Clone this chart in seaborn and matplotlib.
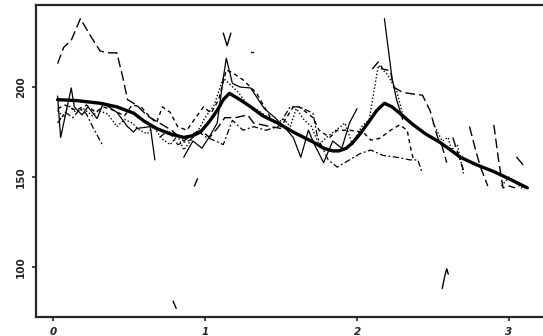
import numpy as np
import pandas as pd
import matplotlib
matplotlib.use("Agg")
import matplotlib.pyplot as plt
import seaborn as sns

# ── data (None = gap in the record) ──────────────────────────────────────────
smooth_x = [0.03, 0.15, 0.31, 0.42, 0.53, 0.6, 0.68, 0.77, 0.86, 0.92, 0.97, 1.03, 1.08, 1.12,
            1.16, 1.23, 1.3, 1.38, 1.49, 1.58, 1.65, 1.71, 1.78, 1.84, 1.88, 1.93, 1.97, 2.02,
            2.08, 2.13, 2.18, 2.23, 2.28, 2.37, 2.45, 2.55, 2.68, 2.78, 2.9, 3.0, 3.12]
smooth_y = [193, 192.5, 191, 189, 185.5, 181, 177, 174, 172, 173, 175, 181, 187, 193,
            196.5, 193, 189, 184, 179.5, 175, 172, 169.5, 166, 164.5, 164.5, 166, 169, 174,
            181, 187, 191, 189, 185.5, 179, 174, 169, 161, 157, 153, 149, 144]

solid_x = [0.03, 0.05, 0.12, 0.14, 0.19, 0.23, 0.29, 0.33, 0.42, 0.49, 0.53, 0.55, 0.64, 0.67, None,
           0.86, 0.92, 0.98, 1.04, 1.08, 1.12, 1.14, 1.18, 1.23, 1.3, 1.39, 1.46, 1.54, 1.58,
           1.63, 1.68, 1.72, 1.78, 1.84, 1.9, 1.95, 2.0, None, 2.18, 2.23, 2.26, 2.3]
solid_y = [195, 172, 199.5, 189, 184.5, 189, 182.5, 191, 186, 178, 175, 177, 178, 159.5, None,
           161, 170, 166, 174, 180, 205, 216, 202, 200, 199.5, 188, 183, 176, 172,
           161, 176, 168, 158, 170, 166, 180, 188, None, 238, 205, 193, 182]

longdash_x = [0.03, 0.07, 0.12, 0.18, 0.25, 0.31, 0.36, 0.42, 0.46, 0.49, 0.55, 0.62, 0.7, 0.78,
              0.86, 0.92, 0.97, 1.03, 1.08, 1.13, 1.2, 1.28, 1.32, 1.43, 1.5, None,
              2.1, 2.14, 2.17, 2.22, 2.24, 2.3, 2.38, 2.43, 2.48, 2.53, 2.56, 2.59, None,
              2.63, 2.66, 2.7, None, 2.74, 2.78, 2.81, 2.86, None, 2.9, 2.93, 2.96, 3.0, 3.04]
longdash_y = [213, 222, 226, 238, 228, 220, 219, 219, 205, 193, 190, 184, 180, 176,
              170, 174, 176, 172, 177, 183, 183, 184.5, 180, 178, 177, None,
              210, 214, 210, 209, 200, 197, 196, 195.5, 187, 172, 167, 158, None,
              172, 164, 154, None, 178, 165, 156, 145, None, 179, 160, 144, 145, 144]

dash_x = [0.03, 0.08, 0.15, 0.22, 0.28, 0.33, 0.4, 0.47, 0.52, 0.58, 0.63, 0.68, 0.72, 0.77,
          0.82, 0.88, 0.93, 0.99, 1.04, 1.09, 1.14, 1.18, 1.25, 1.34, 1.43, 1.5, 1.58, 1.62,
          1.71, 1.75, 1.82, 1.87, 1.95, 2.04, 2.09, 2.15, 2.22, 2.28, 2.33, 2.35, 2.37]
dash_y = [188, 190, 187, 190, 186, 189, 187, 184, 190, 189, 184, 180, 189, 186,
          178, 176, 182, 189, 185.5, 193, 209.5, 208, 204, 196.5, 183, 178, 189, 189,
          183, 176, 172, 176, 176, 175, 170.5, 171.5, 176, 179, 176, 167, 160]

dot_x = [0.03, 0.07, 0.1, 0.15, 0.2, 0.26, 0.3, 0.36, 0.42, 0.47, 0.52, 0.57, 0.62, 0.66, 0.72,
         0.77, 0.82, 0.86, 0.92, 0.97, 1.0, 1.06, 1.12, 1.17, 1.22, 1.28, 1.35, 1.4, 1.46, 1.52,
         1.56, 1.6, 1.65, 1.7, 1.75, 1.8, 1.86, 1.92, 1.97, 2.03, 2.08, 2.14, 2.2, 2.26, 2.3,
         2.34, None, 2.5, 2.56, 2.6, 2.62, 2.66, 2.7, None, 2.95, 3.0, 3.05, 3.1]
dot_y = [187, 183, 190, 186, 188, 184, 187, 185, 178, 182, 180, 176, 174, 178, 171,
         168, 173, 165, 172, 178, 183, 190, 205, 201, 197, 190, 187, 184, 180, 182,
         178, 188, 182, 178, 168, 172, 176, 180, 168, 178, 182, 212, 207, 198, 185,
         181, None, 180, 170, 172, 165, 168, 152, None, 145, 150, 146, 143]

dashdot_x = [0.03, 0.08, 0.13, 0.18, 0.22, 0.26, 0.33, None, 0.7, 0.76, 0.82, 0.9, 0.96, 1.01,
             1.07, 1.12, 1.18, 1.25, 1.32, 1.4, 1.48, 1.56, 1.62, 1.71, 1.74, 1.81, 1.87,
             1.95, 2.02, 2.09, 2.17, 2.26, 2.35, 2.4, 2.43]
dashdot_y = [180, 186, 183, 188, 185, 178, 167, None, 172, 176, 168, 170.5, 175, 172,
             170, 168, 181.5, 176, 178, 176, 178, 189, 189, 185.5, 172, 159.5, 155.5,
             159.5, 163, 165, 162, 161, 159.5, 159.5, 152]

# stray fragments on the scan
frag_x = [0.79, 0.81, None, 0.93, 0.95, None, 2.56, 2.58, 2.59, 2.6, None,
          1.12, 1.145, 1.17, None, 1.305, 1.315, None, 3.05, 3.09]
frag_y = [81, 77, None, 145, 149, None, 88, 96, 99, 96, None,
          230, 223, 230, None, 219.5, 219.5, None, 161, 157]


def to_frame(xs, ys):
    """Split a series at None gaps into numbered segments."""
    rows, seg = [], 0
    for x, y in zip(xs, ys):
        if x is None:
            seg += 1
            continue
        rows.append((x, y, seg))
    return pd.DataFrame(rows, columns=["x", "y", "seg"])


sns.set_style("ticks")
plt.rcParams["font.family"] = ["DejaVu Sans"]

fig = plt.figure(figsize=(5.43, 3.36), dpi=100)
ax = fig.add_axes([36 / 543, 1 - 317 / 336, 510 / 543, 312 / 336])

series = [
    (solid_x, solid_y, "-", 0.9),
    (longdash_x, longdash_y, (0, (7, 3)), 1.0),
    (dash_x, dash_y, (0, (3, 2.5)), 1.0),
    (dot_x, dot_y, (0, (1, 1.5)), 1.0),
    (dashdot_x, dashdot_y, (0, (5, 2, 1.5, 2)), 0.9),
    (frag_x, frag_y, "-", 1.0),
]
for xs, ys, ls, lw in series:
    df = to_frame(xs, ys)
    sns.lineplot(data=df, x="x", y="y", units="seg", estimator=None, sort=False,
                 color="black", linestyle=ls, linewidth=lw, ax=ax, legend=False)

sns.lineplot(x=smooth_x, y=smooth_y, color="black", linewidth=2.4, sort=False,
             estimator=None, ax=ax)

ax.set_xlim(-0.112, 3.243)
ax.set_ylim(72.2, 245.6)
ax.set_xticks([0, 1, 2, 3])
ax.set_yticks([100, 150, 200])
ax.set_xticklabels(["0", "1", "2", "3"], fontsize=7.5, fontweight="bold", style="italic")
ax.set_yticklabels(["100", "150", "200"], fontsize=7.5, fontweight="bold", rotation=90, va="center")
ax.tick_params(direction="out", length=3, width=1.2, pad=4)
ax.set_xlabel("")
ax.set_ylabel("")
for side in ["left", "bottom", "top"]:
    ax.spines[side].set_visible(True)
    ax.spines[side].set_linewidth(1.6)
ax.spines["right"].set_visible(False)

fig.savefig("out.png", dpi=100)
